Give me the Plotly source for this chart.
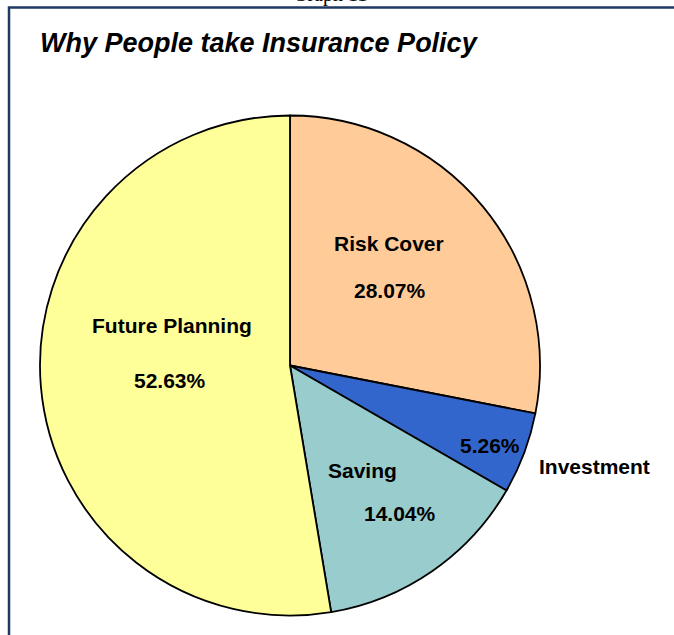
import plotly.graph_objects as go

W, H = 674, 635

categories = ["Risk Cover", "Investment", "Saving", "Future Planning"]
counts = [16, 3, 8, 30]
percent_labels = ["28.07%", "5.26%", "14.04%", "52.63%"]
colors = ["#FFCC99", "#3366CC", "#99CCCC", "#FFFF99"]

title_text = "Why People take Insurance Policy"
header_text = "Graph 11"

def px(x):
    return x / W

def py(y):
    return 1 - y / H

fig = go.Figure()
fig.add_trace(go.Pie(
    labels=categories,
    values=counts,
    sort=False,
    direction="clockwise",
    rotation=0,
    textinfo="none",
    hoverinfo="label+percent",
    marker=dict(colors=colors, line=dict(color="#000000", width=1.8)),
    domain=dict(x=[px(40), px(540)], y=[py(616), py(115)]),
    showlegend=False,
))

label_font = dict(family="Liberation Sans, Arial, sans-serif", size=21, color="#000000", weight="bold")

# (category label position, percent label position) in pixels
label_pos = {
    "Risk Cover": ((389, 243), (390, 290)),
    "Investment": ((594, 466), (490, 445)),
    "Saving": ((362, 471), (400, 513)),
    "Future Planning": ((172, 325), (170, 380)),
}

annotations = []
for cat, pct in zip(categories, percent_labels):
    (cx, cy), (qx, qy) = label_pos[cat]
    annotations.append(dict(x=px(cx), y=py(cy), xref="paper", yref="paper",
                            text=cat, showarrow=False, font=label_font,
                            xanchor="center", yanchor="middle"))
    annotations.append(dict(x=px(qx), y=py(qy), xref="paper", yref="paper",
                            text=pct, showarrow=False, font=label_font,
                            xanchor="center", yanchor="middle"))

annotations.append(dict(x=px(38), y=py(43), xref="paper", yref="paper",
                        text=title_text, showarrow=False,
                        font=dict(family="Liberation Sans, Arial, sans-serif", size=27,
                                  color="#000000", weight="bold", style="italic"),
                        xanchor="left", yanchor="middle"))

annotations.append(dict(x=px(330), y=py(8), xref="paper", yref="paper",
                        text=header_text, showarrow=False,
                        font=dict(family="Liberation Serif, Times New Roman, serif", size=20,
                                  color="#000000"),
                        xanchor="center", yanchor="bottom"))

shapes = [dict(type="rect", xref="paper", yref="paper",
               x0=px(9), x1=1.05, y0=-0.05, y1=py(7.5),
               line=dict(color="#1F3864", width=2.5), fillcolor="rgba(0,0,0,0)")]

fig.update_layout(
    width=W, height=H,
    margin=dict(l=0, r=0, t=0, b=0),
    paper_bgcolor="#FFFFFF",
    plot_bgcolor="#FFFFFF",
    annotations=annotations,
    shapes=shapes,
)

fig.write_html("out.html",
               config={"displayModeBar": False},
               post_script="document.body.style.margin='0';document.body.style.overflow='hidden';")
